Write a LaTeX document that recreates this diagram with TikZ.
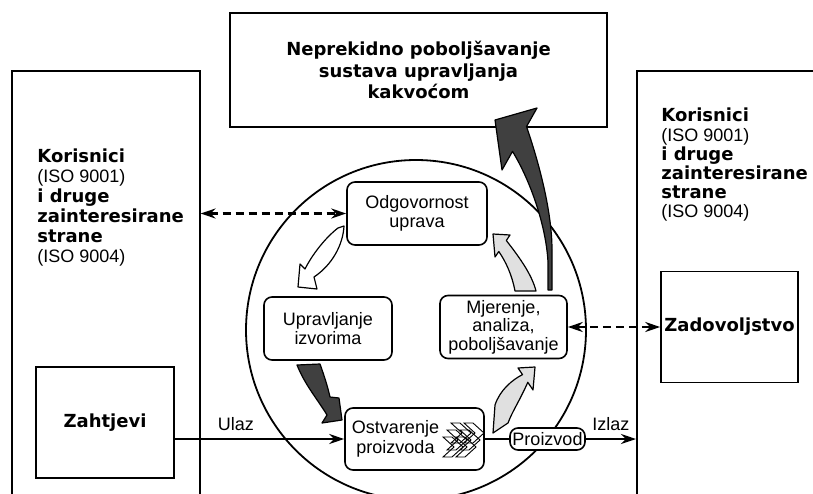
\documentclass[tikz,border=0pt]{standalone}
\usepackage{fontspec}
\setmainfont{Liberation Sans}
\newfontfamily\heavy{DejaVu Sans}
\usetikzlibrary{arrows.meta,positioning}

\begin{document}
\begin{tikzpicture}[x=0.5pt,y=-0.5pt,>={Stealth[length=7.5pt,width=5pt]},
okvir/.style={draw, line width=0.8pt, inner sep=0pt},
proces/.style={okvir, fill=white, rounded corners=4pt, minimum height=31.5pt, align=center, font=\fontsize{9}{9.8}\selectfont},
tekst/.style={align=left, anchor=west, inner sep=0pt, font=\fontsize{9}{10}\selectfont},
crtkano/.style={line width=1.2pt, dash pattern=on 4pt off 2.5pt, <->},
tok/.style={line width=1.3pt},
debela/.style={line width=0.6pt, line join=round}]
\useasboundingbox (0,0) rectangle (813,493);

\node[okvir, minimum width=188.5pt, minimum height=57pt, align=center,
  font=\heavy\bfseries\fontsize{9}{10.8}\selectfont] (poboljsanje) at (418.5,70)
  {Neprekidno poboljšavanje\\sustava upravljanja\\kakvoćom};
\node[okvir, anchor=north west, minimum width=94pt, minimum height=230pt] (lijevi) at (11,70) {};
\node[okvir, anchor=north west, minimum width=100pt, minimum height=230pt] (desni) at (636,70) {};
\node[tekst] (lijevitekst) at (37,207.5)
  {{\heavy\bfseries Korisnici}\\(ISO 9001)\\{\heavy\bfseries i druge}\\{\heavy\bfseries zainteresirane}\\{\heavy\bfseries strane}\\(ISO 9004)};
\node[tekst, font=\fontsize{9}{9.6}\selectfont] (desnitekst) at (661,165)
  {{\heavy\bfseries Korisnici}\\(ISO 9001)\\{\heavy\bfseries i druge}\\{\heavy\bfseries zainteresirane}\\{\heavy\bfseries strane}\\(ISO 9004)};
\node[okvir, minimum width=69pt, minimum height=55.5pt, font=\heavy\bfseries\fontsize{9}{10}\selectfont] (zahtjevi) at (105,422.5) {Zahtjevi};
\node[okvir, minimum width=68.5pt, minimum height=55.5pt, font=\heavy\bfseries\fontsize{9}{10}\selectfont] (zadovoljstvo) at (729.5,327) {Zadovoljstvo};

\node[draw, circle, line width=0.9pt, minimum size=170pt, inner sep=0pt] (krug) at (416,330) {};

\node[proces, minimum width=70pt] (odgovornost) at (417,213.5) {Odgovornost\\uprava};
\node[proces, minimum width=64pt] (izvori) at (328,328.5) {Upravljanje\\izvorima};
\node[proces, minimum width=63.5pt, font=\fontsize{9}{9.3}\selectfont] (mjerenje) at (503.5,327) {Mjerenje,\\analiza,\\poboljšavanje};
\node[proces, minimum width=69.5pt, minimum height=31pt] (ostvarenje) at (414.5,439) {};
\node[align=center, inner sep=0pt, font=\fontsize{9}{10}\selectfont] (ostvarenjetekst) at (395.5,439) {Ostvarenje\\proizvoda};
\node[proces, minimum width=37.5pt, minimum height=11pt, inner sep=1pt] (proizvod) at (547.5,439) {Proizvod};

% chevroni
\foreach \dx/\dy in {451/423,447/430,443/437}
{
\begin{scope}[shift={(\dx,\dy)}, line width=0.45pt]
\draw (0,0)--(9,0)--(20,10)--(9,20)--(0,20)--(11,10)--cycle;
\draw (13,0)--(22,0)--(33,10)--(22,20)--(13,20)--(24,10)--cycle;
\end{scope}
}

\draw[crtkano] (lijevi.east |- odgovornost.west) -- (odgovornost.west);
\draw[crtkano] (mjerenje.east) -- (zadovoljstvo.west);
\draw[tok,->] (zahtjevi.east |- ostvarenje.west) -- node[pos=0.36, above, font=\fontsize{9}{10}\selectfont] {Ulaz} (ostvarenje.west);
\draw[tok] (ostvarenje.east) -- (proizvod.west);
\draw[tok,->] (proizvod.east) -- node[above, font=\fontsize{9}{10}\selectfont] {Izlaz} (proizvod.east -| desni.west);

% debele strelice
\draw[debela, fill=white] (338,228) -- (344,226) .. controls (343,245) and (332,265) .. (314,277)
  -- (317,289) -- (298,287) -- (300,264) -- (305,269) .. controls (312,255) and (325,238) .. cycle;
\draw[debela, fill=black!75] (297,365) -- (320,364) .. controls (325,378) and (328,388) .. (330,397)
  -- (339,398) -- (342,420) -- (322,423) -- (327,415) .. controls (318,400) and (305,385) .. cycle;
\draw[debela, fill=black!12] (493,433) -- (495,405) .. controls (500,390) and (512,380) .. (522.5,374.6)
  -- (518,368) -- (535,367) -- (533,390) -- (527.8,382.3) .. controls (520,400) and (512,412) .. (508,423) -- cycle;
\draw[debela, fill=black!12] (515,291) .. controls (512,275) and (506,262) .. (498.8,251.5)
  -- (495,257) -- (493,234) -- (510,235) -- (506.3,240.5) .. controls (520,258) and (532,275) .. (536,291) -- cycle;
\draw[debela, fill=black!75] (548,290) -- (548,262) .. controls (546,225) and (530,180) .. (512.5,151.4)
  -- (502,170) -- (495,120) -- (537,108) -- (526.5,126.6) .. controls (538,160) and (552,210) .. (552,250) -- (552,290) -- cycle;
\end{tikzpicture}
\end{document}
